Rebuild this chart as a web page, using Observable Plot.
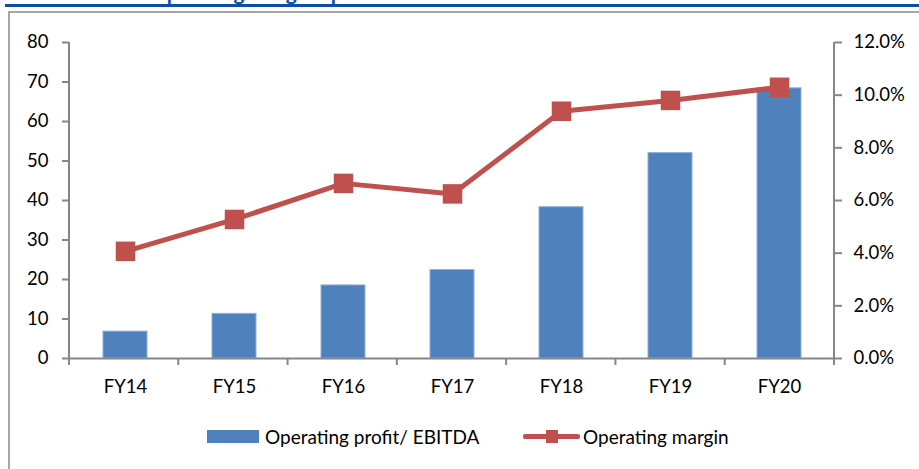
<!DOCTYPE html>
<html>
<head>
<meta charset="utf-8">
<script src="https://cdn.jsdelivr.net/npm/d3@7"></script>
<script src="https://cdn.jsdelivr.net/npm/@observablehq/plot@0.6"></script>
<style>
  html, body { margin: 0; padding: 0; background: #fff; }
  #wrap { position: relative; width: 919px; height: 469px; overflow: hidden; font-family: Lato, "Open Sans", sans-serif; }
  #frame { position: absolute; left: 8px; top: 11px; width: 1000px; height: 600px; border: 2px solid #a6a6a6; box-sizing: border-box; }
  #bluebar { position: absolute; left: 5px; top: 4px; width: 930px; height: 3px; background: #0a4fa3; }
  #title { position: absolute; left: 150px; top: -21px; font: bold 21px Lato, sans-serif; color: #0a4fa3; white-space: nowrap; }
  #chart { position: absolute; left: 0; top: 0; }
  .leg { position: absolute; font-size: 19px; color: #000; white-space: nowrap; line-height: 1; }
</style>
</head>
<body>
<div id="wrap">
  <div id="title">Operating margin up</div>
  <div id="bluebar"></div>
  <div id="frame"></div>
  <div id="chart"></div>
  <div id="legend"></div>
</div>
<script>
const categories = ["FY14", "FY15", "FY16", "FY17", "FY18", "FY19", "FY20"];
const ebitda = [6.8, 11.3, 18.5, 22.4, 38.3, 52.0, 68.4];
const marginPct = [4.07, 5.28, 6.65, 6.25, 9.39, 9.80, 10.30];
const leftTicks = [0, 10, 20, 30, 40, 50, 60, 70, 80];
const rightTicks = [0, 2, 4, 6, 8, 10, 12];
const seriesNames = ["Operating profit/ EBITDA", "Operating margin"];
const barColor = "#4F81BD";
const lineColor = "#C0504D";
const axisColor = "#868686";

const leftMax = 80, rightMax = 12;
const toLeft = v => v * leftMax / rightMax;

const data = categories.map((c, i) => ({cat: c, ebitda: ebitda[i], margin: marginPct[i]}));

const plot = Plot.plot({
  width: 919,
  height: 469,
  marginLeft: 69,
  marginRight: 85,
  marginTop: 42,
  marginBottom: 111,
  style: {fontFamily: "Lato, 'Open Sans', sans-serif", fontSize: "18.5px", color: "#000", background: "transparent", overflow: "visible"},
  x: {domain: categories, paddingInner: 0.6, paddingOuter: 0.3, label: null},
  y: {domain: [0, leftMax], label: null},
  marks: [
    Plot.barY(data, {x: "cat", y: "ebitda", fill: barColor, stroke: "#8fb0d8", strokeWidth: 1}),
    Plot.ruleY([0], {stroke: axisColor, strokeWidth: 2}),
    Plot.axisY(leftTicks, {anchor: "left", tickSize: 7, tickPadding: 14, stroke: axisColor, strokeWidth: 2, fill: "#000", label: null}),
    Plot.axisY(rightTicks.map(toLeft), {anchor: "right", tickSize: 7, tickPadding: 12, stroke: axisColor, strokeWidth: 2, fill: "#000", label: null,
      tickFormat: v => (v * rightMax / leftMax).toFixed(1) + "%"}),
    Plot.axisX({tickSize: 0, tickPadding: 21, fill: "#000", label: null}),
    Plot.lineY(data, {x: "cat", y: d => toLeft(d.margin), stroke: lineColor, strokeWidth: 5}),
    Plot.dot(data, {x: "cat", y: d => toLeft(d.margin), symbol: "square", r: 11, fill: lineColor, stroke: "none"})
  ]
});
document.getElementById("chart").appendChild(plot);

// axis lines and category-boundary ticks, positioned from the plot's own scales
const xs = plot.scale("x"), ys = plot.scale("y");
const svg = d3.select(plot.tagName.toLowerCase() === "svg" ? plot : plot.querySelector("svg"));
const x0 = xs.range[0], x1 = xs.range[1];
const yBase = ys.apply(0), yTop = ys.apply(leftMax);
const g = svg.insert("g", ":first-child").attr("stroke", axisColor).attr("stroke-width", 2);
g.append("line").attr("x1", x0).attr("x2", x0).attr("y1", yTop).attr("y2", yBase);
g.append("line").attr("x1", x1).attr("x2", x1).attr("y1", yTop).attr("y2", yBase);
for (let i = 0; i <= categories.length; i++) {
  const xb = x0 + (x1 - x0) * i / categories.length;
  g.append("line").attr("x1", xb).attr("x2", xb).attr("y1", yBase).attr("y2", yBase + 7);
}

// legend
const legend = document.getElementById("legend");
legend.innerHTML = `
  <div style="position:absolute;left:207px;top:430px;width:52px;height:13px;background:${barColor}"></div>
  <div class="leg" style="left:265px;top:427px">${seriesNames[0]}</div>
  <div style="position:absolute;left:523px;top:434px;width:57px;height:5px;background:${lineColor};border-radius:2px"></div>
  <div style="position:absolute;left:546px;top:430px;width:12px;height:13px;background:${lineColor}"></div>
  <div class="leg" style="left:583px;top:427px">${seriesNames[1]}</div>
`;
</script>
</body>
</html>
